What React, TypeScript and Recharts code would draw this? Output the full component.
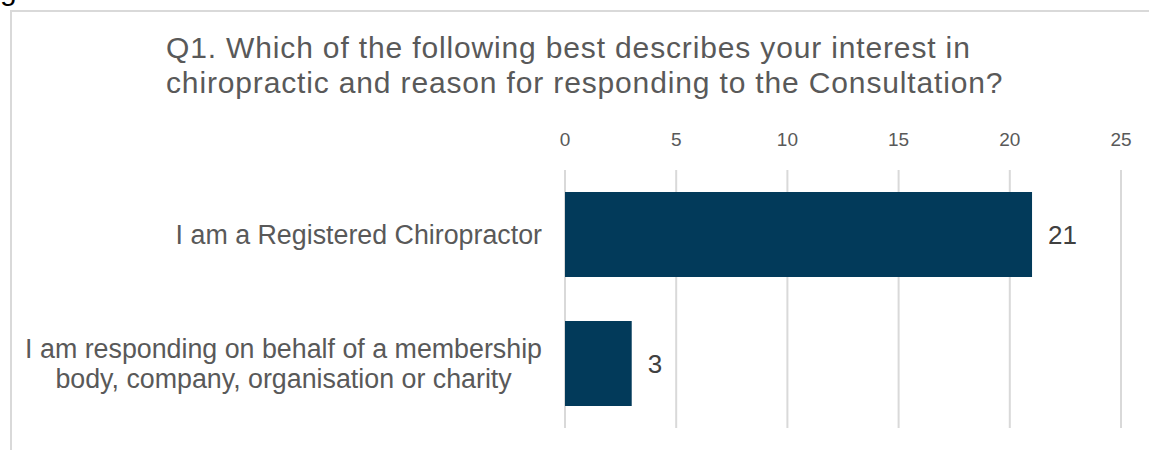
import { BarChart, Bar, XAxis, YAxis, CartesianGrid, LabelList } from "recharts";

const categories = [
  "I am a Registered Chiropractor",
  "I am responding on behalf of a membership\nbody, company, organisation or charity",
];
const responses = [21, 3];
const xTicks = [0, 5, 10, 15, 20, 25];
const titleLines = [
  "Q1. Which of the following best describes your interest in",
  "chiropractic and reason for responding to the Consultation?",
];

const data = categories.map((name, i) => ({ name, value: responses[i] }));

const FONT = "'Liberation Sans', Arial, sans-serif";
const CAT_SIZE = 26.8;

// measure a line so multi-line labels can be centred as a block
function textWidth(s: string) {
  const ctx = document.createElement("canvas").getContext("2d");
  if (!ctx) return s.length * CAT_SIZE * 0.5;
  ctx.font = `${CAT_SIZE}px ${FONT}`;
  return ctx.measureText(s).width;
}

function CategoryTick(props: any) {
  const { x, y, payload } = props;
  const lines = String(payload.value).split("\n");
  const lh = 30;
  const start = y - ((lines.length - 1) * lh) / 2;
  const maxW = Math.max(...lines.map(textWidth));
  const cx = x - maxW / 2;
  return (
    <text
      x={cx}
      y={start}
      textAnchor="middle"
      fill="#595959"
      fontSize={CAT_SIZE}
      fontFamily={FONT}
    >
      {lines.map((l, i) => (
        <tspan key={i} x={cx} y={start + i * lh} dominantBaseline="central">
          {l}
        </tspan>
      ))}
    </text>
  );
}

export default function App() {
  return (
    <div
      style={{
        position: "absolute",
        left: 0,
        top: 0,
        width: 1149,
        height: 450,
        background: "#fff",
        overflow: "hidden",
      }}
    >
      <div
        style={{
          position: "absolute",
          left: 10,
          top: 10,
          width: 1200,
          height: 500,
          borderLeft: "2px solid #d9d9d9",
          borderTop: "2px solid #d9d9d9",
        }}
      />
      <div
        style={{
          position: "absolute",
          left: 0,
          top: -27,
          fontFamily: FONT,
          fontSize: 30,
          lineHeight: "34px",
          color: "#000",
        }}
      >
        g
      </div>
      <div
        style={{
          position: "absolute",
          left: 166,
          top: 30,
          fontFamily: FONT,
          fontSize: 30,
          letterSpacing: 0.85,
          lineHeight: "35px",
          color: "#595959",
          whiteSpace: "nowrap",
        }}
      >
        {titleLines.map((t, i) => (
          <div key={i}>{t}</div>
        ))}
      </div>
      <div style={{ position: "absolute", left: 0, top: 0 }}>
        <BarChart
          width={1149}
          height={450}
          data={data}
          layout="vertical"
          barCategoryGap="17%"
          margin={{ top: 140, right: 28, bottom: 22, left: 0 }}
        >
          <CartesianGrid horizontal={false} stroke="#d9d9d9" strokeWidth={2} />
          <XAxis
            type="number"
            orientation="top"
            domain={[0, 25]}
            ticks={xTicks}
            axisLine={false}
            tickLine={false}
            tickMargin={18}
            height={30}
            tick={{ fill: "#595959", fontSize: 19, fontFamily: FONT }}
          />
          <YAxis
            type="category"
            dataKey="name"
            width={565}
            axisLine={false}
            tickLine={false}
            tickSize={0}
            tickMargin={23}
            tick={<CategoryTick />}
            interval={0}
          />
          <Bar dataKey="value" fill="#023A5A" isAnimationActive={false}>
            <LabelList
              dataKey="value"
              position="right"
              offset={16}
              fill="#404040"
              fontSize={26}
              fontFamily={FONT}
            />
          </Bar>
        </BarChart>
      </div>
    </div>
  );
}
